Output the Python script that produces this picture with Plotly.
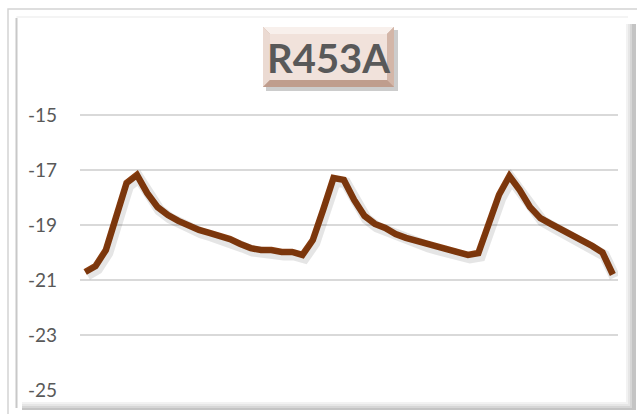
import plotly.graph_objects as go

# Readings, one per sample interval
samples = list(range(52))
temps = [
    -20.71, -20.49, -19.91, -18.60, -17.47, -17.18, -17.84, -18.35, -18.64, -18.85,
    -19.04, -19.18, -19.29, -19.40, -19.51, -19.69, -19.84, -19.91, -19.91, -19.98,
    -19.98, -20.09, -19.55, -18.45, -17.29, -17.36, -18.09, -18.67, -18.96, -19.11,
    -19.33, -19.47, -19.58, -19.69, -19.80, -19.91, -20.02, -20.09, -20.02, -18.89,
    -17.90, -17.22, -17.73, -18.35, -18.75, -18.96, -19.15, -19.40, -19.58, -19.76,
    -20.00, -20.80,
]
y_ticks = [-25, -23, -21, -19, -17, -15]
title_text = "R453A"

W, H = 637, 414
ML, MR, MT, MB = 80, 19, 60, 24
PW, PH = W - ML - MR, H - MT - MB


def px(x):
    return (x - ML) / PW


def py(y):
    return (H - MB - y) / PH


x_range = [-0.5, len(samples) - 0.5]
y_range = [-25, -13]
unit_x = PW / len(samples)
unit_y = PH / (y_range[1] - y_range[0])

fig = go.Figure()

# soft drop shadow of the line, drawn on slightly offset overlay axes
fig.add_trace(go.Scatter(
    x=samples, y=temps, mode="lines", xaxis="x2", yaxis="y2",
    line=dict(color="rgba(0,0,0,0.10)", width=11),
    hoverinfo="skip", showlegend=False,
))
fig.add_trace(go.Scatter(
    x=samples, y=temps, mode="lines",
    line=dict(color="#8A3D0E", width=6.5),
    showlegend=False,
))

shapes = []
# outer frame
shapes.append(dict(type="rect", xref="paper", yref="paper",
                   x0=px(8), x1=px(660), y0=py(440), y1=py(9),
                   line=dict(color="#D4D4D4", width=1.5), fillcolor="rgba(0,0,0,0)", layer="below"))
# inner panel edge and shadow
shapes.append(dict(type="line", xref="paper", yref="paper",
                   x0=px(16.5), x1=px(16.5), y0=py(408), y1=py(18),
                   line=dict(color="#C8C8C8", width=2), layer="below"))
shapes.append(dict(type="line", xref="paper", yref="paper",
                   x0=px(16.5), x1=px(628), y0=py(17), y1=py(17),
                   line=dict(color="#F0F0F0", width=1.5), layer="below"))
for i, c in enumerate(["#F2F2F2", "#E6E6E6", "#D6D6D6", "#C4C4C4"]):
    shapes.append(dict(type="rect", xref="paper", yref="paper",
                       x0=px(626 + i * 2), x1=px(628 + i * 2 + 2), y0=py(410), y1=py(24),
                       line=dict(width=0), fillcolor=c, layer="below"))
    shapes.append(dict(type="rect", xref="paper", yref="paper",
                       x0=px(22), x1=px(636), y0=py(402 + i * 2 + 2), y1=py(402 + i * 2),
                       line=dict(width=0), fillcolor=c, layer="below"))

# title plaque with bevel
bx0, bx1, by0, by1 = 263, 394, 27, 87
bev = 7
shapes.append(dict(type="rect", xref="paper", yref="paper",
                   x0=px(bx0 + 3), x1=px(bx1 + 4), y0=py(by1 + 4), y1=py(by0 + 3),
                   line=dict(width=0), fillcolor="rgba(0,0,0,0.20)", layer="above"))
shapes.append(dict(type="rect", xref="paper", yref="paper",
                   x0=px(bx0), x1=px(bx1), y0=py(by1), y1=py(by0),
                   line=dict(width=0), fillcolor="#C9A898", layer="above"))


def poly(pts, color):
    path = "M " + " L ".join(f"{px(a)},{py(b)}" for a, b in pts) + " Z"
    return dict(type="path", xref="paper", yref="paper", path=path,
                line=dict(width=0), fillcolor=color, layer="above")


shapes.append(poly([(bx0, by0), (bx1, by0), (bx1 - bev, by0 + bev), (bx0 + bev, by0 + bev)], "#F8F0EC"))
shapes.append(poly([(bx0, by0), (bx0 + bev, by0 + bev), (bx0 + bev, by1 - bev), (bx0, by1)], "#EBDAD2"))
shapes.append(poly([(bx1, by0), (bx1, by1), (bx1 - bev, by1 - bev), (bx1 - bev, by0 + bev)], "#D3B6A8"))
shapes.append(poly([(bx0, by1), (bx0 + bev, by1 - bev), (bx1 - bev, by1 - bev), (bx1, by1)], "#BF9D8D"))
shapes.append(dict(type="rect", xref="paper", yref="paper",
                   x0=px(bx0 + bev), x1=px(bx1 - bev), y0=py(by1 - bev), y1=py(by0 + bev),
                   line=dict(width=0), fillcolor="#F1E2DB", layer="above"))

fig.update_layout(
    width=W, height=H,
    margin=dict(l=ML, r=MR, t=MT, b=MB),
    paper_bgcolor="white", plot_bgcolor="white",
    shapes=shapes,
    annotations=[dict(
        text=f"<b>{title_text}</b>", xref="paper", yref="paper",
        x=px((bx0 + bx1) / 2), y=py((by0 + by1) / 2 + 1),
        xanchor="center", yanchor="middle", showarrow=False,
        font=dict(family="Lato", size=40, color="#595959"),
    )],
    xaxis=dict(range=x_range, showgrid=False, zeroline=False, showline=False,
               showticklabels=False, ticks=""),
    yaxis=dict(range=y_range, tickvals=y_ticks, ticktext=[str(v) for v in y_ticks],
               showgrid=True, gridcolor="#D9D9D9", gridwidth=1.5, zeroline=False,
               showline=False, ticks="", ticklabelstandoff=22,
               tickfont=dict(family="Lato", size=19, color="#595959")),
    xaxis2=dict(range=[x_range[0] - 2 / unit_x, x_range[1] - 2 / unit_x], overlaying="x",
                visible=False),
    yaxis2=dict(range=[y_range[0] + 3 / unit_y, y_range[1] + 3 / unit_y], overlaying="y",
                visible=False),
)

fig.write_html("out.html")
